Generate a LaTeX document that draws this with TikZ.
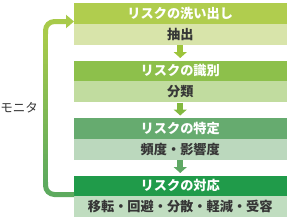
\documentclass[tikz,border=0pt]{standalone}
\usepackage{fontspec}
\setmainfont{Noto Sans CJK JP}
\usetikzlibrary{arrows.meta,calc}

\definecolor{headone}{HTML}{B0CD4E}
\definecolor{subone}{HTML}{D8E4AA}
\definecolor{headtwo}{HTML}{8DC04B}
\definecolor{subtwo}{HTML}{C1DC9F}
\definecolor{headthree}{HTML}{66AB6F}
\definecolor{subthree}{HTML}{BBD8BD}
\definecolor{headfour}{HTML}{209B4A}
\definecolor{subfour}{HTML}{C0DDC0}
\definecolor{arrowone}{HTML}{9DC43A}
\definecolor{arrowtwo}{HTML}{82B93F}
\definecolor{arrowthree}{HTML}{5FA865}
\definecolor{looptop}{HTML}{A8CA4A}
\definecolor{loopbot}{HTML}{5DAA5E}
\definecolor{subtext}{HTML}{363636}

\begin{document}
\begin{tikzpicture}[x=1pt, y=-1pt,
    head/.style={minimum width=212.5pt, minimum height=20.5pt, inner sep=0pt, outer sep=0pt,
        font=\bfseries\fontsize{13.2}{14}\selectfont, text=white},
    sub/.style={minimum width=212.5pt, minimum height=21pt, inner sep=0pt, outer sep=0pt,
        font=\bfseries\fontsize{13.2}{14}\selectfont, text=subtext, anchor=north},
    flow/.style={line width=6pt, -{Triangle[width=13pt,length=6pt]}, shorten <=0.5pt, shorten >=2.5pt},
    loopline/.style={line width=5pt, rounded corners=9pt}]
    \useasboundingbox (0,0) rectangle (287,220);
    % the four steps
    \node[head, fill=headone] (h1) at (180.25,13.25) {リスクの洗い出し};
    \node[sub, fill=subone] (s1) at (h1.south) {抽出};
    \node[head, fill=headtwo] (h2) at (180.25,70.75) {リスクの識別};
    \node[sub, fill=subtwo] (s2) at (h2.south) {分類};
    \node[head, fill=headthree] (h3) at (180.25,128.25) {リスクの特定};
    \node[sub, fill=subthree] (s3) at (h3.south) {頻度・影響度};
    \node[head, fill=headfour] (h4) at (180.25,185.75) {リスクの対応};
    \node[sub, fill=subfour] (s4) at (h4.south) {移転・回避・分散・軽減・受容};
    % arrows between steps
    \draw[flow, arrowone] (s1) -- (h2);
    \draw[flow, arrowtwo] (s2) -- (h3);
    \draw[flow, arrowthree] (s3) -- (h4);
    % feedback loop
    \coordinate (loopstart) at ($(h4.south west)+(0,-1.5)$);
    \coordinate (loopend) at ($(h1.south west)+(0,-2)$);
    \draw[loopline, loopbot] (loopstart) -- ++(-28.5,0) -- ++(0,-12.5);
    \foreach \i [evaluate=\i as \pct using 100-\i*100/29] in {0,...,29}
        \draw[line width=5pt, looptop!\pct!loopbot] ($(loopend)+(-28.5,12+\i*5)$) -- ++(0,5.6);
    \draw[loopline, looptop, -{Triangle[width=13pt,length=8pt]}] ($(loopend)+(-28.5,12.5)$) -- ++(0,-12.5) -- (loopend);
    \node[font=\fontsize{12.5}{13}\selectfont, text=subtext, anchor=east, inner sep=0pt] (monitor) at (38,108) {モニタ};
\end{tikzpicture}
\end{document}
